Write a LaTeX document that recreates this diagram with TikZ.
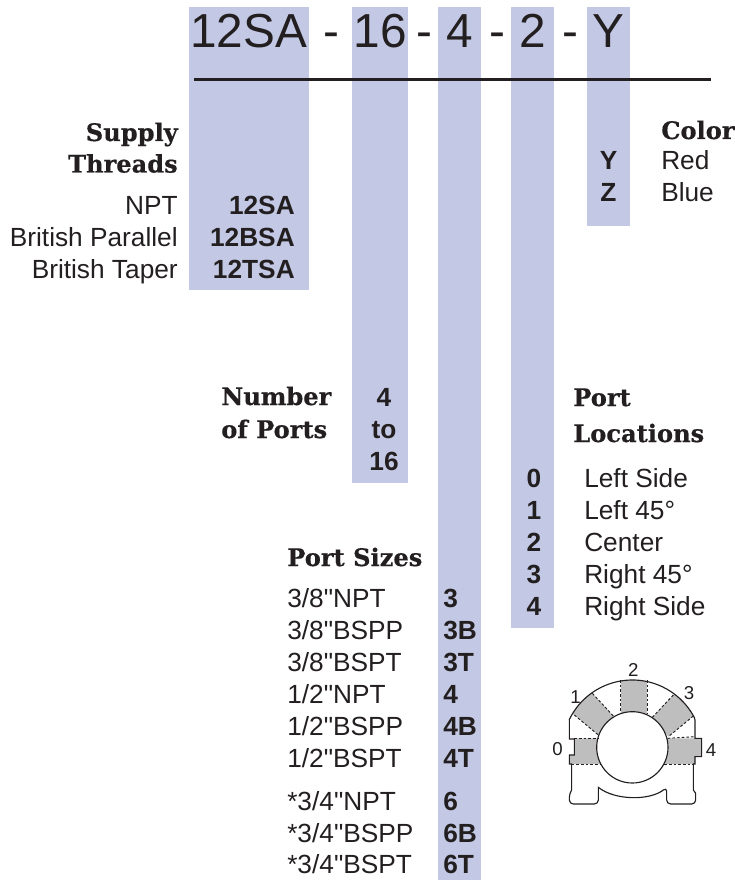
\documentclass[tikz,border=0pt]{standalone}
\usepackage{fontspec}
\setmainfont{Liberation Sans}[Ligatures=TeXOff]
\newfontfamily\headfont{DejaVu Serif}[BoldFont={DejaVu Serif Bold},BoldFeatures={FakeBold=0.5}]
\usepackage{xcolor}
\definecolor{b1}{HTML}{C3C9E4}
\definecolor{ink}{HTML}{231F20}
\definecolor{g1}{HTML}{BEBEBE}
\newcommand{\mysize}{\fontsize{19.7pt}{22pt}\selectfont}
\tikzstyle{bar}=[fill=b1,draw=none]
\tikzstyle{title}=[text=ink,anchor=base,font=\fontsize{35.8pt}{38pt}\selectfont]
\tikzstyle{head}=[text=ink,inner sep=0pt,font=\headfont\bfseries\fontsize{18.1pt}{20pt}\selectfont]
\tikzstyle{label}=[text=ink,inner sep=0pt,font=\mysize]
\tikzstyle{code}=[text=ink,inner sep=0pt,font=\mysize\bfseries]
\tikzstyle{digit}=[text=ink,inner sep=0pt,font=\fontsize{14pt}{16pt}\selectfont]
\tikzstyle{seam}=[ink,dash pattern=on 2pt off 1.5pt,line width=0.7pt]
\begin{document}
\begin{tikzpicture}[x=0.75pt,y=-0.75pt]
  \useasboundingbox (0,0) rectangle (734,880);
  \fill[bar] (189,7) rectangle (309,290);
  \fill[bar] (352,7) rectangle (408,483);
  \fill[bar] (438,7) rectangle (481,880);
  \fill[bar] (511,7) rectangle (554,628);
  \fill[bar] (587,7) rectangle (630,226);
  \draw[ink,line width=1.9pt] (194,79.5) -- (711,79.5);
  \node[title] (t1) at (248.5,48) {12SA};
  \node[title] (t2) at (380,48) {16};
  \node[title] (t3) at (460,48) {4};
  \node[title] (t4) at (533,48) {2};
  \node[title] (t5) at (608,48) {Y};
  \foreach \x/\n in {331/a,424/b,497/c,570/d}
    \node[title] (dash\n) at (\x,48) {-};
  % supply threads
  \node[head,anchor=base east] (supply) at (178,141) {Supply};
  \node[head,anchor=base east] (threads) at (178,172.5) {Threads};
  \foreach \y/\name/\key in {215/NPT/12SA,247/British Parallel/12BSA,278/British Taper/12TSA} {
    \node[label,anchor=base east] (thread\key) at (178,\y) {\name};
    \node[code,anchor=base east] (code\key) at (295,\y) {\key};
  }
  % color
  \node[head,anchor=base west] (color) at (661,139) {Color};
  \foreach \y/\name/\key in {170/Red/Y,202/Blue/Z} {
    \node[code,anchor=base] (code\key) at (608.5,\y) {\key};
    \node[label,anchor=base west] (color\key) at (661,\y) {\name};
  }
  % number of ports
  \node[head,anchor=base west] (number) at (221,405) {Number};
  \node[head,anchor=base west] (ofports) at (221,438) {of Ports};
  \foreach \y/\key in {406/4,438/to,470/16}
    \node[code,anchor=base] (num\key) at (384,\y) {\key};
  % port locations
  \node[head,anchor=base west] (port) at (573,406) {Port};
  \node[head,anchor=base west] (locations) at (573,442) {Locations};
  \foreach \y/\key/\name in {487/0/Left Side,519/1/Left 45°,551/2/Center,583/3/Right 45°,615/4/Right Side} {
    \node[code,anchor=base] (loc\key) at (534,\y) {\key};
    \node[label,anchor=base west] (locname\key) at (584,\y) {\name};
  }
  % port sizes
  \node[head,anchor=base west] (sizes) at (287,566) {Port Sizes};
  \foreach \y/\name/\key in {607.5/{3/8"NPT}/3,639.5/{3/8"BSPP}/3B,671.5/{3/8"BSPT}/3T,
                             703/{1/2"NPT}/4,735/{1/2"BSPP}/4B,767/{1/2"BSPT}/4T,
                             810/{*3/4"NPT}/6,842/{*3/4"BSPP}/6B,873/{*3/4"BSPT}/6T} {
    \node[label,anchor=base west] (size\key) at (287,\y) {\name};
    \node[code,anchor=base west] (sizecode\key) at (443,\y) {\key};
  }
  % port drawing
  \begin{scope}[shift={(530,640)},x=0.25pt,y=-0.25pt]
    \begin{scope}
      \clip (307,330) circle (210);
      \fill[g1] (272,100) rectangle (352,240);
      \fill[g1] (170,142) -- (250,228) -- (205,285) -- (115,210) -- cycle;
      \fill[g1] (447,147) -- (367,232) -- (415,290) -- (508,213) -- cycle;
    \end{scope}
    \fill[g1] (133,295) -- (215,295) -- (215,372) -- (118,372) -- (118,345) -- (133,345) -- cycle;
    \fill[g1] (400,295) -- (515,295) -- (515,350) -- (495,350) -- (495,372) -- (400,372) -- cycle;
    \draw[ink,line width=0.85pt,fill=white] (307,322) circle (107);
    \foreach \a/\b in {272/120,352/120} \draw[seam] (\a,\b) -- (\a,220);
    \draw[seam] (187,160) -- (250,228);
    \draw[seam] (133,225) -- (205,285);
    \draw[seam] (430,165) -- (367,232);
    \draw[seam] (490,228) -- (415,290);
    \draw[seam] (133,295) -- (205,295);
    \draw[seam] (125,372) -- (212,372);
    \draw[seam] (413,295) -- (495,290);
    \draw[seam] (403,372) -- (490,372);
    \draw[ink,line width=0.85pt] (307,330) ++(205.5:210) arc[start angle=205.5,end angle=332,radius=210]
      -- (495,240) -- (495,295) -- (515,295) -- (515,350) -- (495,350) -- (495,372) -- (490,372) -- (490,450)
      -- (497,460) [rounded corners=3pt] -- (497,492) -- (410,492) -- (410,442) [sharp corners]
      .. controls (360,482) and (255,482) .. (205,442) [rounded corners=3pt]
      -- (205,492) -- (118,492) -- (118,460) [sharp corners] -- (125,450) -- (125,372) -- (118,372) -- (118,345)
      -- (133,345) -- (133,297) -- (118,297) -- (118,240);
    \node[digit] (d0) at (83,327) {0};
    \node[digit] (d1) at (137,170) {1};
    \node[digit] (d2) at (310,90) {2};
    \node[digit] (d3) at (477,160) {3};
    \node[digit] (d4) at (543,330) {4};
  \end{scope}
\end{tikzpicture}
\end{document}
